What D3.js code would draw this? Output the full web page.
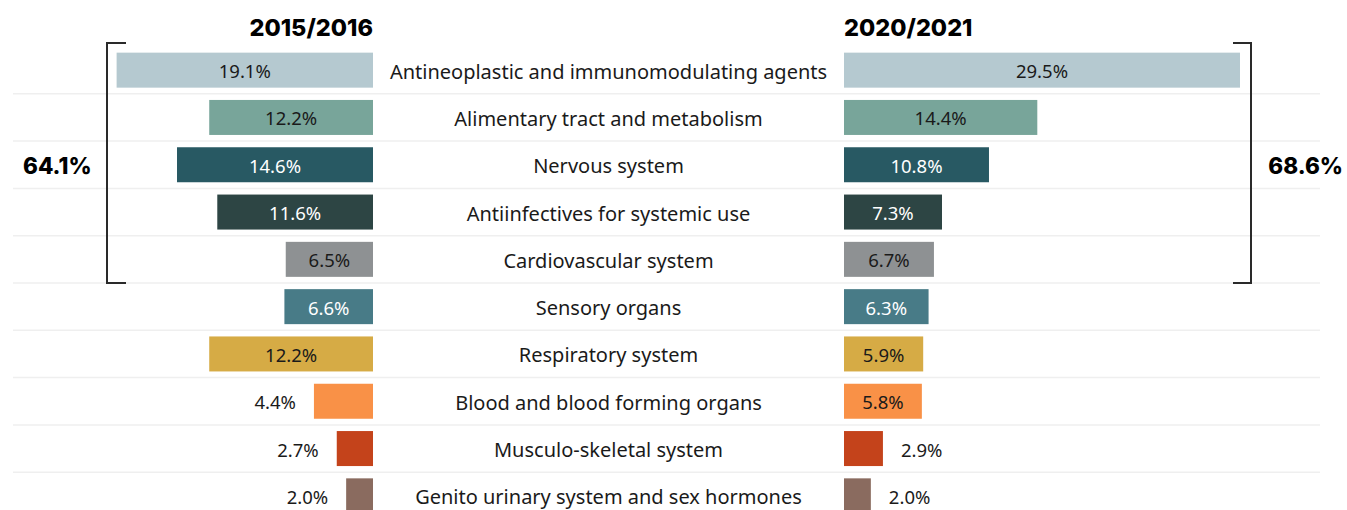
<!DOCTYPE html>
<html>
<head>
<meta charset="utf-8">
<script src="https://cdn.jsdelivr.net/npm/d3@7"></script>
<style>
  body { margin: 0; background: #fff; }
  svg { display: block; font-family: "Noto Sans", sans-serif; }
</style>
</head>
<body>
<script>
var categories = [
  "Antineoplastic and immunomodulating agents",
  "Alimentary tract and metabolism",
  "Nervous system",
  "Antiinfectives for systemic use",
  "Cardiovascular system",
  "Sensory organs",
  "Respiratory system",
  "Blood and blood forming organs",
  "Musculo-skeletal system",
  "Genito urinary system and sex hormones"
];
var share2015 = [19.1, 12.2, 14.6, 11.6, 6.5, 6.6, 12.2, 4.4, 2.7, 2.0];
var share2020 = [29.5, 14.4, 10.8, 7.3, 6.7, 6.3, 5.9, 5.8, 2.9, 2.0];
var colors = ["#b5c9d0", "#78a59a", "#285963", "#2d4544", "#8e9193", "#487b87",
              "#d6ab45", "#f99147", "#c4431b", "#8a6b5f"];
var darkBars = [false, false, true, true, false, true, false, false, false, false];
var periods = ["2015/2016", "2020/2021"];
var topFiveTotals = ["64.1%", "68.6%"];

var w = 1347, h = 510;
var leftEnd = 373, rightStart = 844, mid = 608.5;

var svg = d3.select("body").append("svg")
  .attr("width", w)
  .attr("height", h);

var x = d3.scaleLinear().domain([0, 29.5]).range([0, 396]);
var y = d3.scaleBand()
  .domain(categories)
  .range([46.5, 46.5 + 473])
  .paddingInner(0.26)
  .paddingOuter(0.13);
var step = y.step();
var textShift = 1.5;

//row separators
svg.selectAll(".sep")
  .data(categories.slice(1))
  .enter()
  .append("line")
  .attr("class", "sep")
  .attr("x1", 13).attr("x2", 1320)
  .attr("y1", function(d) { return y(d) - y.paddingInner() * step / 2; })
  .attr("y2", function(d) { return y(d) - y.paddingInner() * step / 2; })
  .attr("stroke", "#efefef")
  .attr("stroke-width", 1.5);

var rows = categories.map(function(c, i) {
  return { cat: c, a: share2015[i], b: share2020[i], color: colors[i], dark: darkBars[i] };
});

function fmt(v) { return v.toFixed(1) + "%"; }

//left bars
svg.selectAll(".barL")
  .data(rows)
  .enter()
  .append("rect")
  .attr("class", "barL")
  .attr("x", function(d) { return leftEnd - x(d.a); })
  .attr("y", function(d) { return y(d.cat); })
  .attr("width", function(d) { return x(d.a); })
  .attr("height", y.bandwidth())
  .attr("fill", function(d) { return d.color; });

//right bars
svg.selectAll(".barR")
  .data(rows)
  .enter()
  .append("rect")
  .attr("class", "barR")
  .attr("x", rightStart)
  .attr("y", function(d) { return y(d.cat); })
  .attr("width", function(d) { return x(d.b); })
  .attr("height", y.bandwidth())
  .attr("fill", function(d) { return d.color; });

var minInside = 65;

svg.selectAll(".valL")
  .data(rows)
  .enter()
  .append("text")
  .attr("class", "valL")
  .attr("x", function(d) {
    return x(d.a) > minInside ? leftEnd - x(d.a) / 2 : leftEnd - x(d.a) - 18;
  })
  .attr("y", function(d) { return y(d.cat) + y.bandwidth() / 2 + textShift; })
  .attr("dy", "0.35em")
  .attr("text-anchor", function(d) { return x(d.a) > minInside ? "middle" : "end"; })
  .style("font-size", "18.5px")
  .attr("fill", function(d) { return x(d.a) > minInside && d.dark ? "#fff" : "#1a1a1a"; })
  .text(function(d) { return fmt(d.a); });

svg.selectAll(".valR")
  .data(rows)
  .enter()
  .append("text")
  .attr("class", "valR")
  .attr("x", function(d) {
    return x(d.b) > minInside ? rightStart + x(d.b) / 2 : rightStart + x(d.b) + 18;
  })
  .attr("y", function(d) { return y(d.cat) + y.bandwidth() / 2 + textShift; })
  .attr("dy", "0.35em")
  .attr("text-anchor", function(d) { return x(d.b) > minInside ? "middle" : "start"; })
  .style("font-size", "18.5px")
  .attr("fill", function(d) { return x(d.b) > minInside && d.dark ? "#fff" : "#1a1a1a"; })
  .text(function(d) { return fmt(d.b); });

//category names
svg.selectAll(".cat")
  .data(rows)
  .enter()
  .append("text")
  .attr("class", "cat")
  .attr("x", mid)
  .attr("y", function(d) { return y(d.cat) + y.bandwidth() / 2 + textShift; })
  .attr("dy", "0.35em")
  .attr("text-anchor", "middle")
  .style("font-size", "20px")
  .attr("fill", "#1a1a1a")
  .text(function(d) { return d.cat; });

//period headers
svg.append("text")
  .attr("x", leftEnd).attr("y", 36)
  .attr("text-anchor", "end")
  .style("font-size", "23.5px").style("font-weight", 800)
  .style("font-family", "Inter, sans-serif")
  .text(periods[0]);
svg.append("text")
  .attr("x", rightStart).attr("y", 36)
  .attr("text-anchor", "start")
  .style("font-size", "23.5px").style("font-weight", 800)
  .style("font-family", "Inter, sans-serif")
  .text(periods[1]);

//brackets round top five
var bTop = 43, bBot = y(categories[5]) - y.paddingInner() * step / 2;
svg.append("path")
  .attr("d", "M126," + bTop + "H107V" + bBot + "H126")
  .attr("fill", "none").attr("stroke", "#2a2a2a").attr("stroke-width", 2);
svg.append("path")
  .attr("d", "M1233," + bTop + "H1251V" + bBot + "H1233")
  .attr("fill", "none").attr("stroke", "#2a2a2a").attr("stroke-width", 2);

var totalY = y(categories[2]) + y.bandwidth() / 2 + textShift;
svg.append("text")
  .attr("x", 23).attr("y", totalY).attr("dy", "0.35em")
  .style("font-size", "22.5px").style("font-weight", 800)
  .style("font-family", "Inter, sans-serif")
  .text(topFiveTotals[0]);
svg.append("text")
  .attr("x", 1343).attr("y", totalY).attr("dy", "0.35em")
  .attr("text-anchor", "end")
  .style("font-size", "22.5px").style("font-weight", 800)
  .style("font-family", "Inter, sans-serif")
  .text(topFiveTotals[1]);
</script>
</body>
</html>
